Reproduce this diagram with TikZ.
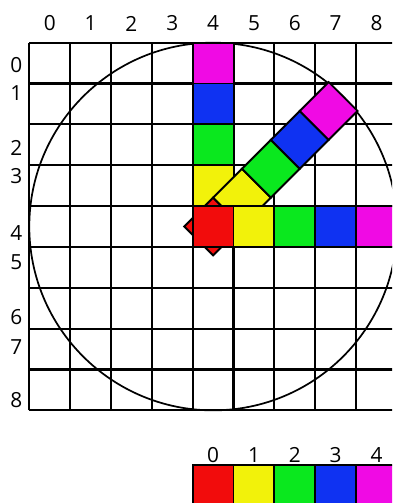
\documentclass[tikz,border=0pt]{standalone}
\usepackage{fontspec}
\setmainfont{Open Sans}
\usetikzlibrary{
    positioning,
    calc
}
\definecolor{CellRed}{RGB}{242,12,12}
\definecolor{CellYellow}{RGB}{242,242,10}
\definecolor{CellGreen}{RGB}{10,232,30}
\definecolor{CellBlue}{RGB}{15,50,242}
\definecolor{CellMagenta}{RGB}{240,10,228}
\tikzset{
  cell/.style  = {draw, line width=1.3pt, minimum size=1cm, inner sep=0pt},
  tcell/.style = {cell, rotate=45},
  lbl/.style   = {font=\fontsize{14.5}{16}\selectfont, inner sep=1pt}
}
\begin{document}
\begin{tikzpicture}
\useasboundingbox (-0.717,-2.268) rectangle (8.879,10.045);
\clip (-0.717,-2.268) rectangle (8.879,10.045);

% grid and circle
\draw[line width=1.5pt] (0,0) grid (9,9);
\draw[line width=1.2pt] (4.5,4.5) circle[radius=4.5];
\coordinate (o) at (4.5,4.5);

% vertical run
\node[cell, fill=CellMagenta] (v4) at (4.5,8.5) {};
\node[cell, fill=CellBlue]    (v3) at (4.5,7.5) {};
\node[cell, fill=CellGreen]   (v2) at (4.5,6.5) {};
\node[cell, fill=CellYellow]  (v1) at (4.5,5.5) {};

% diagonal run
\node[tcell, fill=CellRed]     (d0) at (o) {};
\node[tcell, fill=CellYellow]  (d1) at ($(o)+(45:1)$) {};
\node[tcell, fill=CellGreen]   (d2) at ($(o)+(45:2)$) {};
\node[tcell, fill=CellBlue]    (d3) at ($(o)+(45:3)$) {};
\node[tcell, fill=CellMagenta] (d4) at ($(o)+(45:4)$) {};

% horizontal run
\node[cell, fill=CellRed]     (h0) at (o) {};
\node[cell, fill=CellYellow]  (h1) at (5.5,4.5) {};
\node[cell, fill=CellGreen]   (h2) at (6.5,4.5) {};
\node[cell, fill=CellBlue]    (h3) at (7.5,4.5) {};
\node[cell, fill=CellMagenta] (h4) at (8.5,4.5) {};

% axis labels
\foreach \c in {0,...,8}
  \node[lbl] (col\c) at (\c+0.5,9.47) {\c};
\foreach \r/\y in {0/8.454, 1/7.761, 2/6.422, 3/5.737, 4/4.341,
                   5/3.631, 6/2.285, 7/1.55, 8/0.253}
  \node[lbl] (row\r) at (-0.32,\y) {\r};

% colour key
\foreach \k/\col in {0/CellRed, 1/CellYellow, 2/CellGreen, 3/CellBlue, 4/CellMagenta} {
  \node[cell, fill=\col] (key\k) at (4.5+\k,-1.838) {};
  \node[lbl, above=0pt of key\k] (keylbl\k) {\k};
}
\end{tikzpicture}
\end{document}
